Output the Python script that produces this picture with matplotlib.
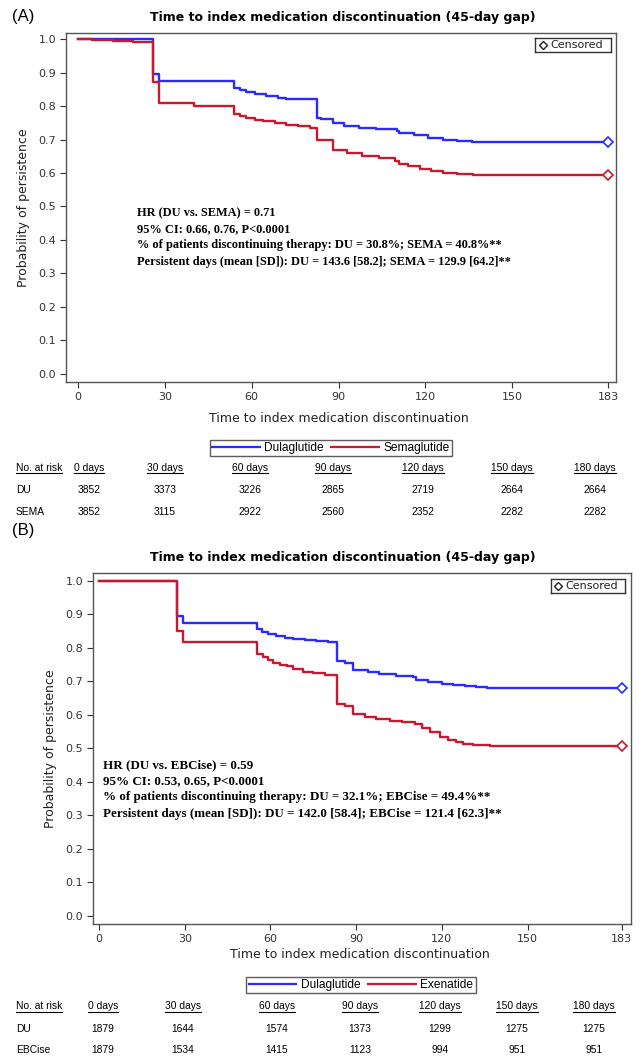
import matplotlib
matplotlib.use("Agg")
import matplotlib.pyplot as plt
from matplotlib.lines import Line2D

# ---------------- data ----------------
title = "Time to index medication discontinuation (45-day gap)"
xlabel = "Time to index medication discontinuation"
ylabel = "Probability of persistence"
xticks = [0, 30, 60, 90, 120, 150, 183]
yticks = [0.0, 0.1, 0.2, 0.3, 0.4, 0.5, 0.6, 0.7, 0.8, 0.9, 1.0]

# Panel A
a_du_t = [0, 25.8, 28, 54, 56, 58, 61, 65, 69, 72, 76, 82.5, 84, 88, 92, 97, 103, 110, 111, 116, 121, 126, 131, 136, 183]
a_du_s = [1.0, 0.895, 0.875, 0.855, 0.848, 0.843, 0.836, 0.829, 0.825, 0.822, 0.821, 0.765, 0.762, 0.748, 0.740, 0.735,
          0.730, 0.726, 0.719, 0.712, 0.705, 0.699, 0.695, 0.692, 0.692]
a_se_t = [0, 5, 12, 19, 25.8, 28, 40, 54, 56, 58, 61, 64, 68, 72, 76, 80, 82.5, 88, 93, 98, 104, 109.5, 111, 114, 118,
          122, 126, 131, 136.5, 183]
a_se_s = [1.0, 0.997, 0.994, 0.99, 0.873, 0.808, 0.800, 0.776, 0.770, 0.764, 0.758, 0.754, 0.749, 0.744, 0.739, 0.735,
          0.698, 0.669, 0.660, 0.651, 0.644, 0.637, 0.627, 0.620, 0.613, 0.606, 0.601, 0.597, 0.594, 0.594]
a_labels = ["Dulaglutide", "Semaglutide"]
a_text = ["HR (DU vs. SEMA) = 0.71",
          "95% CI: 0.66, 0.76, P<0.0001",
          "% of patients discontinuing therapy: DU = 30.8%; SEMA = 40.8%**",
          "Persistent days (mean [SD]): DU = 143.6 [58.2]; SEMA = 129.9 [64.2]**"]
a_groups = ["DU", "SEMA"]
a_risk_du = [3852, 3373, 3226, 2865, 2719, 2664, 2664]
a_risk_se = [3852, 3115, 2922, 2560, 2352, 2282, 2282]

# Panel B
b_du_t = [0, 27.2, 29.3, 55.2, 57, 59.3, 62, 65, 68, 72, 76, 80, 83.2, 86, 89, 94, 98, 104, 110, 111, 115, 120, 124,
          128, 132, 135.7, 183]
b_du_s = [1.0, 0.894, 0.874, 0.855, 0.848, 0.840, 0.835, 0.830, 0.827, 0.823, 0.820, 0.817, 0.760, 0.754, 0.735,
          0.728, 0.722, 0.717, 0.713, 0.703, 0.698, 0.692, 0.688, 0.685, 0.682, 0.680, 0.680]
b_ex_t = [0, 27.2, 29.3, 55.2, 57.5, 59, 61, 63.5, 65.7, 68, 71.5, 75, 79, 83.2, 86, 89, 93, 97, 101.9, 106, 110.6,
          113, 116, 119.4, 122, 125, 127.5, 131, 136.9, 183]
b_ex_s = [1.0, 0.85, 0.816, 0.78, 0.773, 0.764, 0.755, 0.75, 0.745, 0.737, 0.728, 0.724, 0.720, 0.632, 0.627, 0.602,
          0.594, 0.588, 0.583, 0.578, 0.573, 0.56, 0.548, 0.535, 0.525, 0.518, 0.514, 0.511, 0.508, 0.508]
b_labels = ["Dulaglutide", "Exenatide"]
b_text = ["HR (DU vs. EBCise) = 0.59",
          "95% CI: 0.53, 0.65, P<0.0001",
          "% of patients discontinuing therapy: DU = 32.1%; EBCise = 49.4%**",
          "Persistent days (mean [SD]): DU = 142.0 [58.4]; EBCise = 121.4 [62.3]**"]
b_groups = ["DU", "EBCise"]
b_risk_du = [1879, 1644, 1574, 1373, 1299, 1275, 1275]
b_risk_ex = [1879, 1534, 1415, 1123, 994, 951, 951]

risk_headers = ["No. at risk", "0 days", "30 days", "60 days", "90 days", "120 days", "150 days", "180 days"]

BLUE = "#2b2bff"
RED = "#c8192e"
FRAME = "#555555"
W, H = 642, 1056

fig = plt.figure(figsize=(W / 100, H / 100), dpi=100)
sans = "DejaVu Sans"
tab = "Liberation Sans"
serif = "Liberation Serif"


def px_x(x):
    return x / W


def px_y(y):
    return 1 - y / H


def panel(box, xlim, ylim, t1, s1, t2, s2, labels, text_lines, text_xy, text_size, tag, tag_y, title_y,
          censor_box, leg_y, leg_x, xl_y, groups, r1, r2, head_y, row_y, col_x):
    l, t, r, b = box
    ax = fig.add_axes([px_x(l), px_y(b), (r - l) / W, (b - t) / H])
    ax.step(t1, s1, where="post", color=BLUE, lw=1.7)
    ax.step(t2, s2, where="post", color=RED, lw=1.7)
    ax.plot([t1[-1]], [s1[-1]], marker="D", ms=5, mfc="white", mec=BLUE, mew=1.2, ls="none")
    ax.plot([t2[-1]], [s2[-1]], marker="D", ms=5, mfc="white", mec=RED, mew=1.2, ls="none")
    ax.set_xlim(*xlim)
    ax.set_ylim(*ylim)
    ax.set_xticks(xticks)
    ax.set_yticks(yticks)
    ax.set_yticklabels([f"{v:.1f}" for v in yticks])
    ax.tick_params(labelsize=8, colors="#333333", length=4.5, width=0.8, pad=2.5)
    for sp in ax.spines.values():
        sp.set_color(FRAME)
        sp.set_linewidth(1.0)
    ax.set_ylabel(ylabel, fontsize=9, color="#222222", labelpad=6)
    fig.text(px_x((l + r) / 2 - 2), px_y(xl_y), xlabel, fontsize=9, color="#222222", ha="center", va="center")
    fig.text(px_x(12), px_y(tag_y), tag, fontsize=12, ha="left", va="center", family=tab)
    fig.text(px_x(343), px_y(title_y), title, fontsize=9, fontweight="bold", ha="center", va="center")
    for i, line in enumerate(text_lines):
        fig.text(px_x(text_xy[0]), px_y(text_xy[1] + i * 16.2), line, family=serif, fontweight="bold",
                 fontsize=text_size, ha="left", va="center")
    # censored legend
    cx0, cy0, cx1, cy1 = censor_box
    cax = fig.add_axes([px_x(cx0), px_y(cy1), (cx1 - cx0) / W, (cy1 - cy0) / H])
    cax.set_xticks([]); cax.set_yticks([])
    for sp in cax.spines.values():
        sp.set_color("#333333"); sp.set_linewidth(1.0)
    cax.set_xlim(0, 1); cax.set_ylim(0, 1)
    cax.plot([0.1], [0.5], marker="D", ms=4.5, mfc="white", mec="#222222", mew=1.0)
    cax.text(0.2, 0.48, "Censored", fontsize=8, va="center", ha="left", color="#222222")
    # line legend
    handles = [Line2D([], [], color=BLUE, lw=1.6), Line2D([], [], color=RED, lw=1.6)]
    leg = fig.legend(handles, labels, loc="center", bbox_to_anchor=(px_x(leg_x), px_y(leg_y)), ncol=2,
                     prop={"family": tab, "size": 8.6}, frameon=True, fancybox=False, handlelength=4.0,
                     handletextpad=0.4, columnspacing=0.6, borderpad=0.2, borderaxespad=0)
    leg.get_frame().set_edgecolor("#333333")
    leg.get_frame().set_linewidth(1.0)
    # risk table
    fs = 7.4
    heads = []
    heads.append(fig.text(px_x(16), px_y(head_y), risk_headers[0], family=tab, fontsize=fs, ha="left", va="center"))
    for cx, hd in zip(col_x, risk_headers[1:]):
        heads.append(fig.text(px_x(cx), px_y(head_y), hd, family=tab, fontsize=fs, ha="center", va="center"))
    for gy, g, vals in zip(row_y, groups, [r1, r2]):
        fig.text(px_x(16), px_y(gy), g, family=tab, fontsize=fs, ha="left", va="center")
        for cx, v in zip(col_x, vals):
            fig.text(px_x(cx), px_y(gy), str(v), family=tab, fontsize=fs, ha="center", va="center")
    return heads


heads_all = []
heads_all += panel((66, 33, 616, 382), (-4.14, 185.8), (-0.024, 1.018), a_du_t, a_du_s, a_se_t, a_se_s, a_labels,
                   a_text, (137, 213), 8.9, "(A)", 17, 17, (535, 38, 611, 52), 448, 331, 419, a_groups,
                   a_risk_du, a_risk_se, 468, (490, 512), [89, 165, 250, 333, 423, 512, 595])
heads_all += panel((93, 573, 631, 924), (-2.1, 186.2), (-0.024, 1.023), b_du_t, b_du_s, b_ex_t, b_ex_s, b_labels,
                   b_text, (103, 765), 9.35, "(B)", 530, 557, (551, 579, 625, 593), 985, 361, 955, b_groups,
                   b_risk_du, b_risk_ex, 1006, (1029, 1050), [103, 183, 277, 360, 440, 517, 594])

fig.canvas.draw()
rend = fig.canvas.get_renderer()
for h in heads_all:
    bb = h.get_window_extent(rend)
    yline = bb.y0 - 0.5
    fig.add_artist(Line2D([bb.x0 / W, bb.x1 / W], [yline / H, yline / H], color="black", lw=0.8,
                          transform=fig.transFigure))

fig.savefig("out.png", dpi=100)
